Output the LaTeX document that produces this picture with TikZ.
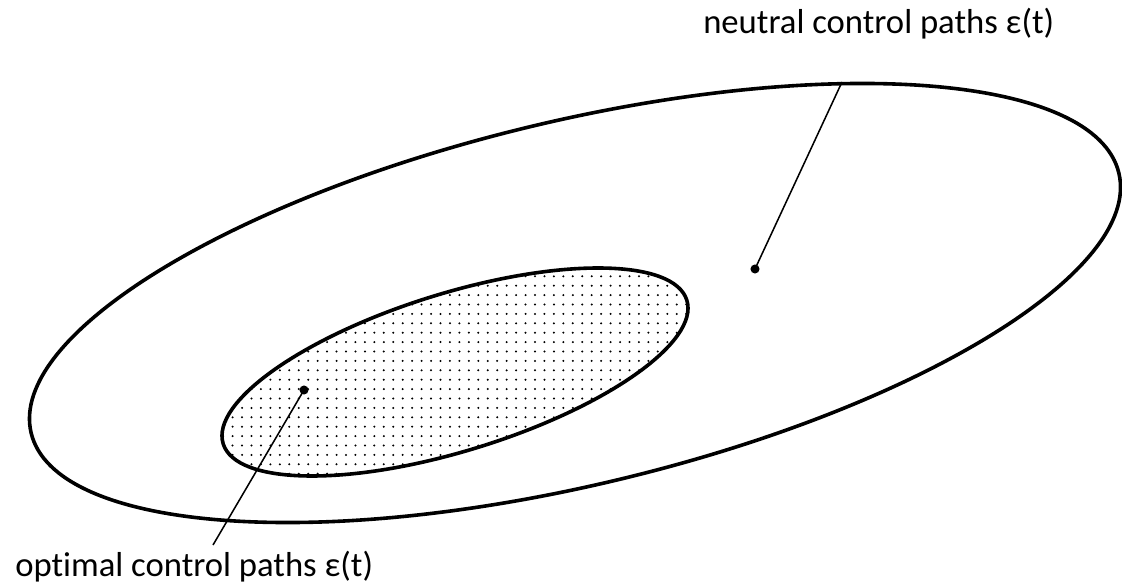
\documentclass[tikz,border=0pt]{standalone}
\usepackage{fontspec}
\setmainfont{Carlito}[Ligatures={NoCommon}]
\begin{document}
\begin{tikzpicture}[x=0.75pt,y=0.75pt,
  rim/.style={line width=2.7pt},
  leader/.style={line width=1.15pt},
  spot/.style={circle,fill=black,inner sep=0pt,minimum size=6.8pt},
  lab/.style={inner sep=0pt,font=\fontsize{26}{30}\selectfont}]
\useasboundingbox (0,0) rectangle (1122,583);
% dotted fill of the inner region
\begin{scope}
  \clip[rotate around={17.2:(455,211)}] (455,211) ellipse [x radius=242.7, y radius=78.8];
  \foreach \i in {0,...,52} {
    \foreach \j in {0,...,25} {
      \fill (223.15+9.45*\i, 99.9+9.4*\j) circle (0.85pt);
    }
  }
\end{scope}
% ellipses
\draw[rim, rotate around={17.2:(455,211)}] (455,211) ellipse [x radius=242.7, y radius=78.8];
\draw[rim, rotate around={13.44:(575,280)}] (575,280) ellipse [x radius=559.2, y radius=181.9];
% leaders
\node[spot] (nd) at (755,314) {};
\coordinate (ne) at (842,501);
\draw[leader] (nd.center) -- (ne);
\node[spot] (od) at (304,193) {};
\coordinate (oe) at (213,38);
\draw[leader] (od.center) -- (oe);
% labels
\node[lab, anchor=base west] (nl) at (703,549) {neutral control paths ε(t)};
\node[lab, anchor=base west] (ol) at (15,7) {optimal control paths ε(t)};
\end{tikzpicture}
\end{document}
